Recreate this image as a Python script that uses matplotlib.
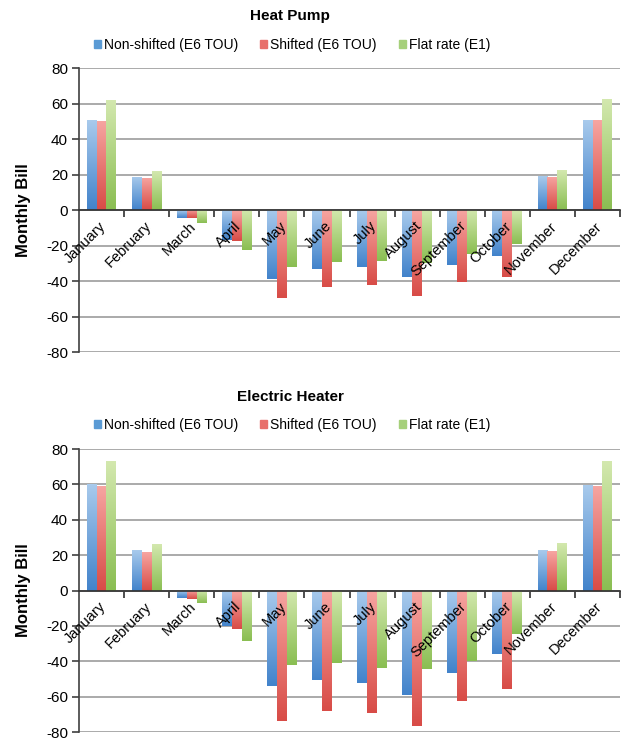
import numpy as np
import matplotlib.pyplot as plt
from matplotlib.colors import LinearSegmentedColormap

plt.rcParams["font.family"] = ["Liberation Sans", "DejaVu Sans"]

months = ["January", "February", "March", "April", "May", "June", "July",
          "August", "September", "October", "November", "December"]
series_names = ["Non-shifted (E6 TOU)", "Shifted (E6 TOU)", "Flat rate (E1)"]

# Heat pump monthly bills
hp_nonshifted = [50.7, 18.6, -4.3, -16.7, -39.0, -33.0, -32.0, -37.5, -31.2, -26.0, 19.0, 50.7]
hp_shifted = [50.2, 18.2, -4.6, -17.3, -49.8, -43.5, -42.0, -48.3, -40.5, -37.5, 18.6, 50.5]
hp_flat = [61.9, 21.7, -7.2, -22.7, -32.0, -29.5, -29.0, -30.0, -25.0, -19.0, 22.3, 62.3]

# Electric heater monthly bills
eh_nonshifted = [60.0, 22.8, -4.0, -20.0, -54.2, -50.5, -52.5, -58.8, -46.7, -35.8, 23.0, 59.5]
eh_shifted = [59.3, 21.8, -4.7, -21.8, -73.6, -68.4, -69.3, -76.5, -62.5, -55.5, 22.4, 59.1]
eh_flat = [73.3, 26.5, -7.2, -28.4, -42.0, -41.2, -43.7, -44.4, -40.0, -24.5, 27.1, 73.3]

yticks = [-80, -60, -40, -20, 0, 20, 40, 60, 80]

# light -> dark shading per series
shades = [("#a8caec", "#4283cb"), ("#f6a5a1", "#d84c47"), ("#d3e8ae", "#8abe52")]
legend_colors = ["#5b9bd5", "#e8706b", "#a6d07a"]


def shaded_bars(ax, x, values, width, light, dark):
    cmap = LinearSegmentedColormap.from_list("shade", [light, dark])
    grad = np.linspace(0, 1, 64).reshape(-1, 1)
    bars = ax.bar(x, values, width, color="none", edgecolor="none", zorder=3)
    for rect in bars:
        x0 = rect.get_x()
        y0 = rect.get_y()
        h = rect.get_height()
        lo, hi = min(y0, y0 + h), max(y0, y0 + h)
        im = ax.imshow(grad, cmap=cmap, extent=(x0, x0 + rect.get_width(), lo, hi),
                       aspect="auto", zorder=3, interpolation="bilinear")
        im.set_clip_path(rect)


def draw_panel(fig, rect, title, series, title_y, legend_y):
    ax = fig.add_axes(rect)
    x = np.arange(len(months))
    width = 0.22
    for k, vals in enumerate(series):
        shaded_bars(ax, x + (k - 1) * width, vals, width, *shades[k])

    ax.set_xlim(-0.5, len(months) - 0.5)
    ax.set_ylim(-80, 80)
    ax.set_yticks(yticks)
    ax.set_yticklabels([str(v) for v in yticks], fontsize=11)
    ax.yaxis.grid(True, color="#9c9c9c", linewidth=1.2, zorder=0)
    ax.set_axisbelow(True)

    for side in ["top", "right"]:
        ax.spines[side].set_visible(False)
    ax.spines["left"].set_color("#404040")
    ax.spines["left"].set_linewidth(1.2)
    ax.spines["bottom"].set_position(("data", 0))
    ax.spines["bottom"].set_color("#303030")
    ax.spines["bottom"].set_linewidth(1.2)
    ax.spines["bottom"].set_zorder(4)

    ax.set_xticks(np.arange(len(months)) + 0.5)
    ax.set_xticklabels([])
    ax.tick_params(axis="x", direction="out", length=5, color="#303030", width=1.2)
    ax.tick_params(axis="y", direction="out", length=5, color="#404040", width=1.2, pad=3)

    for i, m in enumerate(months):
        ax.annotate(m, xy=(i + 0.05, 0), xytext=(0, -10), textcoords="offset points",
                    rotation=45, ha="right", va="center", rotation_mode="anchor",
                    fontsize=10.5, zorder=5)

    ax.set_ylabel("Monthly Bill", fontsize=12, fontweight="bold", labelpad=11)

    fig.text(0.465, title_y, title, ha="center", va="center",
             fontsize=11, fontweight="bold")
    handles = [plt.Rectangle((0, 0), 1, 1, color=c) for c in legend_colors]
    fig.legend(handles, series_names, loc="center", bbox_to_anchor=(0.468, legend_y),
               ncol=3, frameon=False, fontsize=10, handlelength=0.5, handleheight=0.5,
               handletextpad=0.2, columnspacing=1.6)
    return ax


fig = plt.figure(figsize=(6.24, 7.40), dpi=100)

draw_panel(fig, [0.1266, 0.5243, 0.867, 0.3838], "Heat Pump",
           [hp_nonshifted, hp_shifted, hp_flat], 1 - 16 / 740, 1 - 45 / 740)
draw_panel(fig, [0.1266, 0.0108, 0.867, 0.3824], "Electric Heater",
           [eh_nonshifted, eh_shifted, eh_flat], 1 - 397 / 740, 1 - 425 / 740)

fig.savefig("out.png", dpi=100)
plt.close(fig)
